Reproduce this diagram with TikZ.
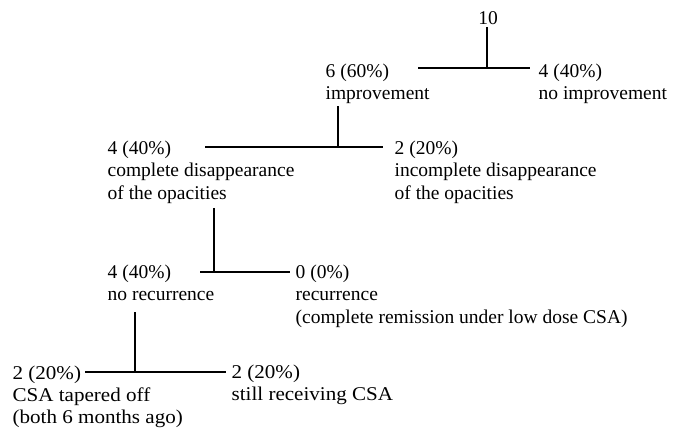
\documentclass[tikz,border=0pt]{standalone}
\usepackage{fontspec}
\setmainfont{Liberation Serif}
\newfontfamily\widefont[FakeStretch=1.08]{Liberation Serif}
\begin{document}
\begin{tikzpicture}[x=1pt,y=-1pt,line width=1.3pt,
  lbl/.style={anchor=base west,align=left,inner sep=2pt,font=\fontsize{19.5}{22.5}\selectfont}]
\useasboundingbox (0,0) rectangle (683,429);
% level 0 (labels are placed by the baseline of their last line)
\node[lbl,anchor=base] (N10) at (488,24) {10};
\coordinate (B1w) at (418,68); \coordinate (B1e) at (530,68); \coordinate (J1) at (487,68);
\node[lbl] (Imp) at (323,99.5) {6 (60\%)\\improvement};
\node[lbl] (NoImp) at (536,99.5) {4 (40\%)\\no improvement};
\draw (J1 |- N10.south) -- (J1);
\draw (B1w) -- (B1e);
% level 1
\coordinate (B2w) at (205,147); \coordinate (B2e) at (383,147); \coordinate (J2) at (338,147);
\node[lbl] (Compl) at (105,199) {4 (40\%)\\complete disappearance\\of the opacities};
\node[lbl] (Incompl) at (392,199) {2 (20\%)\\incomplete disappearance\\of the opacities};
\draw (J2 |- Imp.south) -- (J2);
\draw (B2w) -- (B2e);
% level 2
\coordinate (B3w) at (200,272); \coordinate (B3e) at (290,272); \coordinate (J3) at (214,272);
\node[lbl] (NoRec) at (105,300.5) {4 (40\%)\\no recurrence};
\node[lbl] (Rec) at (293,323) {0 (0\%)\\recurrence\\(complete remission under low dose CSA)};
\draw[shorten <=2pt] (J3 |- Compl.south) -- (J3);
\draw (B3w) -- (B3e);
% level 3
\coordinate (B4w) at (85,372); \coordinate (B4e) at (226,372); \coordinate (J4) at (135,372);
\node[lbl,font=\widefont\fontsize{19.5}{22}\selectfont] (Taper) at (10,423) {2 (20\%)\\CSA tapered off\\(both 6 months ago)};
\node[lbl,font=\widefont\fontsize{19.5}{22}\selectfont] (Still) at (229,400) {2 (20\%)\\still receiving CSA};
\draw[shorten <=9pt] (J4 |- NoRec.south) -- (J4);
\draw (B4w) -- (B4e);
\end{tikzpicture}
\end{document}
